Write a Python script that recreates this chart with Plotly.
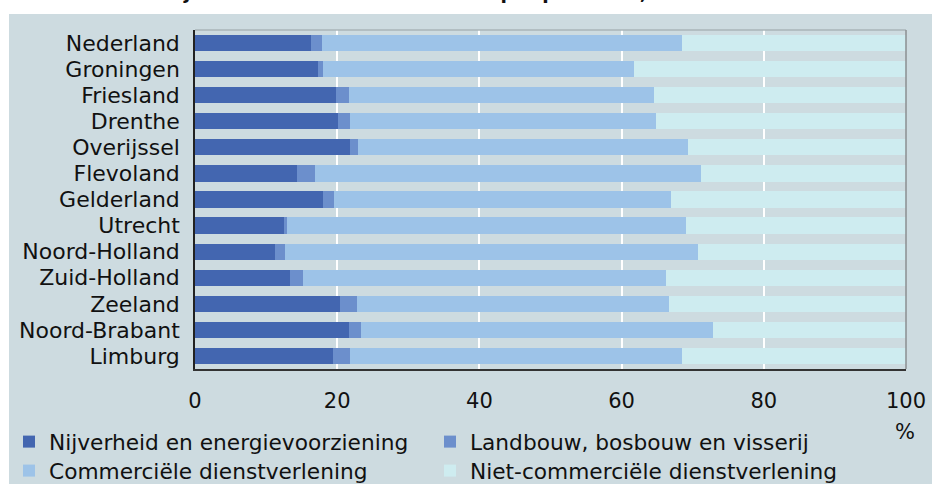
import plotly.graph_objects as go

provinces = ["Nederland", "Groningen", "Friesland", "Drenthe", "Overijssel", "Flevoland",
             "Gelderland", "Utrecht", "Noord-Holland", "Zuid-Holland", "Zeeland",
             "Noord-Brabant", "Limburg"]

nijverheid = [16.3, 17.3, 19.9, 20.1, 21.8, 14.3, 18.0, 12.5, 11.2, 13.3, 20.4, 21.6, 19.4]
landbouw = [1.5, 0.7, 1.7, 1.7, 1.1, 2.6, 1.5, 0.4, 1.4, 1.9, 2.4, 1.7, 2.4]
commercieel = [50.7, 43.8, 43.0, 43.1, 46.5, 54.2, 47.4, 56.1, 58.2, 51.1, 43.8, 49.6, 46.7]
niet_commercieel = [31.5, 38.2, 35.4, 35.1, 30.6, 28.9, 33.1, 31.0, 29.2, 33.7, 33.4, 27.1, 31.5]

series_names = ["Nijverheid en energievoorziening", "Landbouw, bosbouw en visserij",
                "Commerciële dienstverlening", "Niet-commerciële dienstverlening"]
series_values = [nijverheid, landbouw, commercieel, niet_commercieel]
series_colors = ["#4366b0", "#6c8fcc", "#9dc3e8", "#ceecf0"]
series_legend = ["legend", "legend", "legend2", "legend2"]

x_ticks = [0, 20, 40, 60, 80, 100]
title_text = "Aandeel bedrijfstakken in het aantal banen per provincie, 2008"

W, H = 932, 484
L, R, T, B = 195, 26, 30, 115
pw, ph = W - L - R, H - T - B

def px_x(p):
    return (p - L) / pw

def px_y(p):
    return (H - B - p) / ph

FONT = "DejaVu Sans, Verdana, sans-serif"
BG = "#cddbe0"

fig = go.Figure()
for name, vals, col, lg in zip(series_names, series_values, series_colors, series_legend):
    fig.add_trace(go.Bar(
        y=provinces, x=vals, name=name, orientation="h", legend=lg,
        marker=dict(color=col, line=dict(width=0)),
    ))

legend_common = dict(
    orientation="h", xanchor="left", yanchor="top",
    bgcolor="rgba(0,0,0,0)", font=dict(size=21.7, family=FONT, color="#111111"),
    entrywidth=376, entrywidthmode="pixels", traceorder="normal",
    itemwidth=30, tracegroupgap=0,
)

fig.update_layout(
    width=W, height=H,
    margin=dict(l=L, r=R, t=T, b=B, autoexpand=False),
    barmode="stack", bargap=0.38,
    paper_bgcolor="white", plot_bgcolor=BG,
    font=dict(family=FONT, size=21, color="#111111"),
    showlegend=True,
    legend=dict(x=px_x(9), y=px_y(421), **legend_common),
    legend2=dict(x=px_x(9), y=px_y(450), **legend_common),
    xaxis=dict(
        range=[0, 100], tickvals=x_ticks, ticktext=[str(v) for v in x_ticks],
        showgrid=True, gridcolor="white", gridwidth=1.5, zeroline=False,
        showline=True, linecolor="#333333", linewidth=1.5,
        ticks="", tickfont=dict(size=21), ticklabelstandoff=12, fixedrange=True,
    ),
    yaxis=dict(
        categoryorder="array", categoryarray=provinces, autorange="reversed",
        showgrid=False, zeroline=False, showline=True, linecolor="#222222", linewidth=1.5,
        ticks="", tickfont=dict(size=22), ticklabelstandoff=9, fixedrange=True,
    ),
    shapes=[
        dict(type="rect", xref="paper", yref="paper", layer="below",
             x0=px_x(9), x1=px_x(940), y0=px_y(490), y1=px_y(14),
             fillcolor=BG, line=dict(width=0)),
        dict(type="line", xref="paper", yref="paper", layer="above",
             x0=0, x1=1, y0=1, y1=1, line=dict(color="#a9b4b8", width=1.5)),
        dict(type="line", xref="paper", yref="paper", layer="above",
             x0=1, x1=1, y0=0, y1=1, line=dict(color="#8a8f92", width=1.5)),
    ],
    annotations=[
        dict(text="%", xref="paper", yref="paper", x=px_x(905), y=px_y(432),
             xanchor="center", yanchor="middle", showarrow=False,
             font=dict(size=21, family=FONT, color="#111111")),
        dict(text="<b>" + title_text + "</b>", xref="paper", yref="paper",
             x=px_x(35), y=1, xanchor="left", yanchor="bottom", yshift=25,
             showarrow=False, font=dict(size=18.7, family=FONT, color="#111111")),
    ],
)

fig.write_html("out.html", config={"displayModeBar": False},
               post_script="document.body.style.margin='0';")
